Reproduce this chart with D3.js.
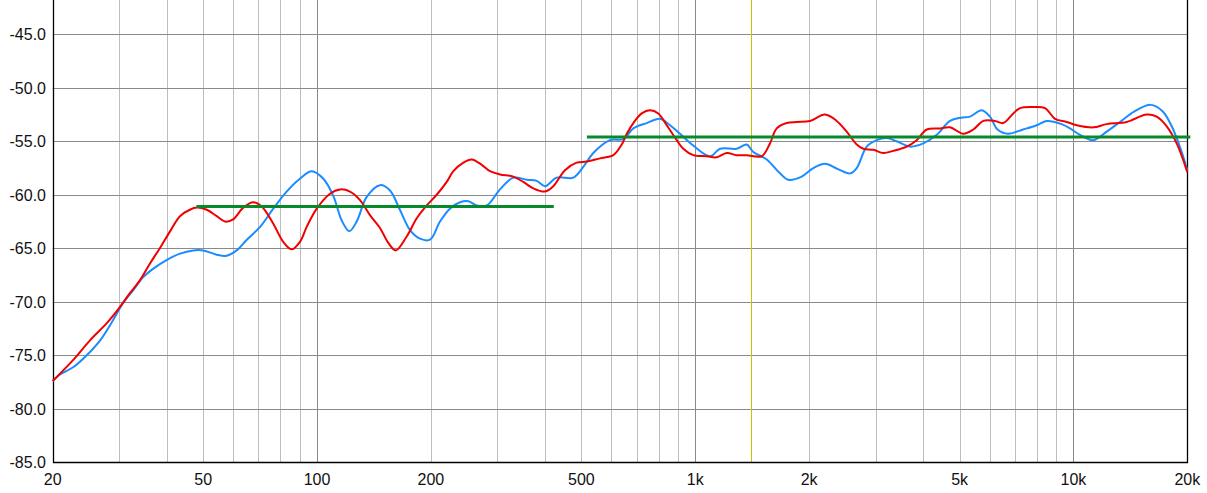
<!DOCTYPE html>
<html>
<head>
<meta charset="utf-8">
<script src="https://cdn.jsdelivr.net/npm/d3@7"></script>
<style>
    html, body { margin: 0; padding: 0; background: #fff; }
    svg { display: block; }
    text { font-family: "Liberation Sans", Arial, sans-serif; font-size: 16px; fill: #111; }
</style>
</head>
<body>
<svg id="chart" width="1207" height="493"></svg>
<script>
// frequency (Hz) / level (dB)
const redFreq = [20, 22.7, 25.1, 27.8, 30.1, 32.0, 34.0, 36.2, 38.4, 40.9, 43.4, 46.1, 48.1, 51.1, 54.3, 57.1, 60.0, 63.8, 67.8, 71.4,
    76.6, 81.4, 85.7, 90.1, 93.9, 99.8, 108.2, 115, 122.2, 129.9, 138, 146.7, 154.3, 161.5, 172.6, 183.5, 195, 207.2, 220.2, 229.3,
    243.7, 256.4, 272.5, 286.6, 304.6, 330.4, 351, 373.2, 400.6, 421.4, 452.4, 485.8, 516.4, 559.8, 607.2, 639.2, 659, 686, 721.8, 759.2,
    798.6, 840.6, 893.4, 929.8, 988, 1072, 1139, 1211, 1287, 1368, 1499, 1576, 1642, 1745, 1855, 2011, 2204, 2366, 2514, 2673,
    2782, 2958, 3142, 3340, 3624, 3851, 4093, 4438, 4717, 5115, 5437, 5777, 6202, 6524, 6934, 7224, 7832, 8412, 8938, 9598,
    10204, 11286, 12244, 13832, 15612, 16600, 17642, 18752, 20000]
const redDb = [-77.4, -75.4, -73.6, -72.0, -70.5, -69.2, -68.0, -66.4, -65.0, -63.4, -62.0, -61.4, -61.2, -61.4, -62.0, -62.5, -62.3, -61.2, -60.7, -61.1,
    -62.7, -64.4, -65.1, -64.4, -63.0, -61.3, -59.9, -59.5, -59.7, -60.5, -61.9, -63.1, -64.5, -65.2, -63.9, -62.2, -61.0, -60.0, -58.8, -57.8,
    -57.0, -56.7, -57.2, -57.8, -58.1, -58.3, -58.8, -59.4, -59.7, -59.2, -57.7, -57.0, -56.9, -56.6, -56.3, -55.3, -54.3, -53.3, -52.4, -52.1,
    -52.4, -53.5, -54.9, -55.7, -56.3, -56.4, -56.5, -56.1, -56.3, -56.3, -56.4, -55.2, -53.8, -53.3, -53.2, -53.1, -52.5, -53.1, -54.1, -55.3,
    -55.7, -55.8, -56.1, -55.9, -55.5, -54.9, -53.9, -53.8, -53.7, -54.3, -53.9, -53.1, -53.1, -53.3, -52.4, -51.9, -51.8, -51.9, -52.9, -53.2,
    -53.5, -53.7, -53.4, -53.2, -52.5, -52.7, -53.6, -55.2, -57.9]

const blueFreq = [20, 20.9, 22.7, 24.6, 26.7, 28.9, 30.7, 32.7, 34.7, 36.9, 40.0, 43.4, 47.1, 50.0, 54.3, 57.7, 61.3, 65.2, 70.7, 76.6,
    83.1, 90.1, 96.8, 103.9, 110.4, 116.2, 121.7, 127.3, 135.3, 146.7, 155.9, 165.6, 176.1, 187.2, 198.9, 211.4, 224.5, 238.8, 251.2, 264.4,
    281, 304.6, 330.4, 358.4, 381, 400.6, 430.3, 476, 505.8, 537.6, 595.2, 645.4, 686, 744, 806.8, 857.6, 911.6, 988, 1094, 1163,
    1287, 1368, 1424, 1545, 1676, 1762, 1912, 2052, 2204, 2384, 2566, 2673, 2840, 3018, 3208, 3409, 3698, 4008, 4350, 4717,
    5044, 5326, 5720, 6016, 6298, 6714, 7356, 7996, 8496, 9302, 9794, 10406, 11286, 12244, 13274, 14502, 16016, 17202, 18190, 19330, 20000]
const blueDb = [-77.4, -76.8, -76.1, -75.0, -73.6, -71.7, -70.1, -68.9, -67.7, -66.9, -66.1, -65.5, -65.2, -65.2, -65.6, -65.7, -65.2, -64.2, -63.0, -61.3,
    -59.7, -58.5, -57.8, -58.5, -60.1, -62.4, -63.4, -62.5, -60.2, -59.1, -59.6, -61.4, -63.3, -64.1, -64.2, -62.5, -61.3, -60.7, -60.6, -61.0,
    -61.0, -59.5, -58.4, -58.6, -58.7, -59.2, -58.4, -58.4, -57.4, -56.1, -54.9, -54.8, -53.8, -53.3, -52.9, -53.5, -54.3, -55.4, -56.4, -55.7,
    -55.7, -55.3, -56.0, -56.7, -58.0, -58.6, -58.3, -57.5, -57.1, -57.6, -58.0, -57.5, -55.5, -54.9, -54.7, -55.0, -55.5, -55.2, -54.4, -53.1,
    -52.8, -52.7, -52.1, -52.7, -53.9, -54.3, -53.9, -53.5, -53.1, -53.4, -53.8, -54.4, -54.9, -54.1, -53.2, -52.2, -51.6, -52.2, -53.6, -56.0, -57.7]

// average levels (green)
const avgStart = [48, 517]
const avgEnd = [415, 20000]
const avgDb = [-61.1, -54.6]

const markerFreq = [1400]

const xTickVals = [20, 50, 100, 200, 500, 1000, 2000, 5000, 10000, 20000]
const xTickLabels = ["20", "50", "100", "200", "500", "1k", "2k", "5k", "10k", "20k"]
const majorGrid = [100, 1000, 10000]
const minorGrid = [30, 40, 50, 60, 70, 80, 90, 200, 300, 400, 500, 600, 700, 800, 900,
    2000, 3000, 4000, 5000, 6000, 7000, 8000, 9000]
const yTickVals = [-85, -80, -75, -70, -65, -60, -55, -50, -45]


const plotLeft = 52.7, plotRight = 1187.3, plotTop = 0, plotBottom = 462.3

const x = d3.scaleLog().domain([20, 20000]).range([plotLeft, plotRight])
const y = d3.scaleLinear().domain([-85, -41.8]).range([plotBottom, plotTop])

const svg = d3.select("#chart")
const px = v => Math.round(v) + 0.5

svg.append("g")
    .selectAll("line")
    .data(minorGrid)
    .join("line")
    .attr("x1", d => px(x(d))).attr("x2", d => px(x(d)))
    .attr("y1", plotTop).attr("y2", plotBottom)
    .attr("stroke", "#bdbdbd")
    .attr("stroke-width", 1)

svg.append("g")
    .selectAll("line")
    .data(yTickVals.slice(1))
    .join("line")
    .attr("x1", plotLeft).attr("x2", plotRight)
    .attr("y1", d => px(y(d))).attr("y2", d => px(y(d)))
    .attr("stroke", "#8a8a8a")
    .attr("stroke-width", 1)

svg.append("g")
    .selectAll("line")
    .data(majorGrid)
    .join("line")
    .attr("x1", d => px(x(d))).attr("x2", d => px(x(d)))
    .attr("y1", plotTop).attr("y2", plotBottom)
    .attr("stroke", "#8a8a8a")
    .attr("stroke-width", 1)

svg.append("g")
    .selectAll("line")
    .data(markerFreq)
    .join("line")
    .attr("x1", d => px(x(d))).attr("x2", d => px(x(d)))
    .attr("y1", plotTop).attr("y2", plotBottom)
    .attr("stroke", "#c4c400")
    .attr("stroke-width", 1)

// frame: left, bottom, right
svg.append("path")
    .attr("d", "M" + px(plotLeft) + "," + plotTop + "V" + px(plotBottom) + "H" + px(plotRight) + "V" + plotTop)
    .attr("fill", "none")
    .attr("stroke", "#000")
    .attr("stroke-width", 1.3)

const line = d3.line()
    .x(d => x(d[0]))
    .y(d => y(d[1]))
    .curve(d3.curveCatmullRom.alpha(0.5))

const blue = blueFreq.map((f, i) => [f, blueDb[i]])
const red = redFreq.map((f, i) => [f, redDb[i]])

svg.append("path")
    .datum(blue)
    .attr("d", line)
    .attr("fill", "none")
    .attr("stroke", "#1a8cff")
    .attr("stroke-width", 2)

svg.append("path")
    .datum(red)
    .attr("d", line)
    .attr("fill", "none")
    .attr("stroke", "#f00000")
    .attr("stroke-width", 2)

svg.append("g")
    .selectAll("line")
    .data(avgDb)
    .join("line")
    .attr("x1", (d, i) => x(avgStart[i]))
    .attr("x2", (d, i) => x(avgEnd[i]) + 3)
    .attr("y1", d => y(d)).attr("y2", d => y(d))
    .attr("stroke", "#078a2a")
    .attr("stroke-width", 3)

// tick labels
svg.append("g")
    .selectAll("text")
    .data(yTickVals)
    .join("text")
    .attr("x", 46)
    .attr("y", d => y(d))
    .attr("dy", "0.36em")
    .attr("text-anchor", "end")
    .text(d => d.toFixed(1))

svg.append("g")
    .selectAll("text")
    .data(xTickVals)
    .join("text")
    .attr("x", d => x(d))
    .attr("y", 485)
    .attr("text-anchor", "middle")
    .text((d, i) => xTickLabels[i])
</script>
</body>
</html>
